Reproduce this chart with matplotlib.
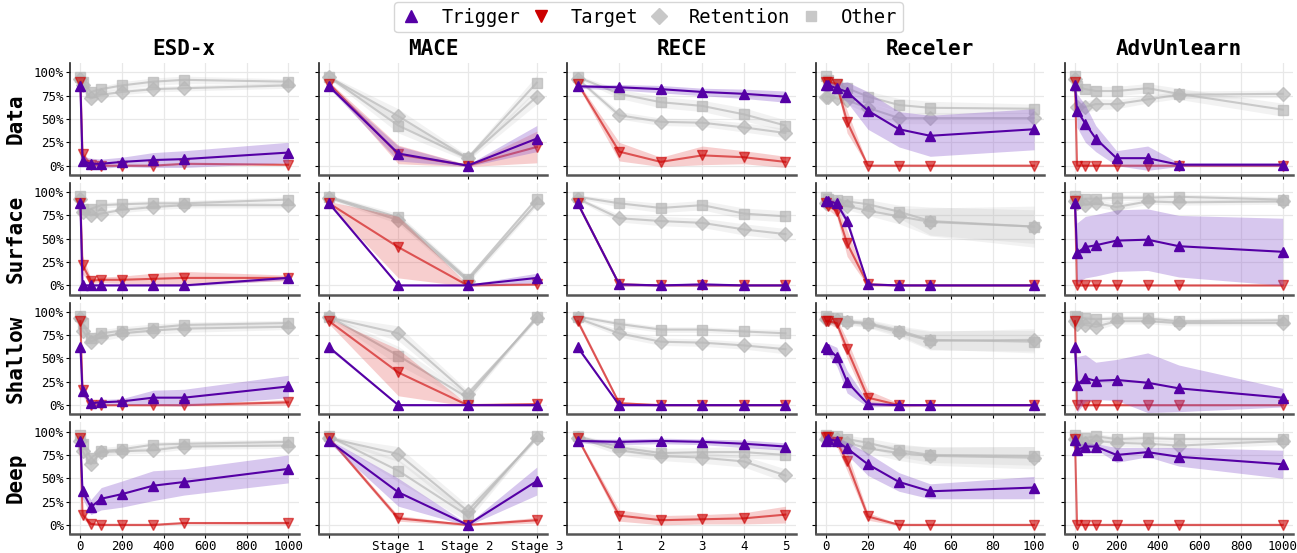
"""
Concept-erasure robustness grid: 4 prompt depths x 5 methods.
Output: out.png
"""

import matplotlib
matplotlib.use('Agg')
import matplotlib.pyplot as plt
from matplotlib.lines import Line2D
import numpy as np

plt.rcParams['font.family'] = ['DejaVu Sans Mono']

# ---- x positions per method ----
X_STEPS = [0, 10, 50, 100, 200, 350, 500, 1000]   # ESD-x, AdvUnlearn
X_MACE = [0, 1, 2, 3]
X_RECE = [0, 1, 2, 3, 4, 5]
X_RECELER = [0, 1, 5, 10, 20, 35, 50, 100]

METHODS = ['ESD-x', 'MACE', 'RECE', 'Receler', 'AdvUnlearn']
ROWS = ['Data', 'Surface', 'Shallow', 'Deep']
SERIES = ['Trigger', 'Target', 'Retention', 'Other']
MACE_LABELS = ['', 'Stage 1', 'Stage 2', 'Stage 3']

# each panel: [trigger, target, retention, other] (%), and matching spreads
# ---- Data ----
ESDX_DATA = [[85, 5, 2, 2, 4, 6, 7, 14],
             [90, 12, 1, 0, 0, 0, 2, 1],
             [93, 86, 72, 76, 79, 82, 83, 86],
             [95, 90, 79, 82, 86, 90, 92, 90]]
ESDX_DATA_SD = [[2, 5, 6, 5, 5, 8, 9, 11],
                [2, 4, 2, 1, 1, 1, 1, 1],
                [3, 4, 5, 4, 3, 3, 3, 3],
                [2, 3, 3, 3, 4, 4, 4, 3]]
MACE_DATA = [[85, 13, 0, 29],
             [88, 12, 0, 20],
             [95, 53, 8, 74],
             [95, 43, 8, 89]]
MACE_DATA_SD = [[2, 8, 1, 14], [2, 10, 1, 17], [2, 8, 3, 8], [2, 8, 3, 8]]
RECE_DATA = [[85, 84, 82, 79, 77, 74],
             [88, 15, 4, 11, 9, 4],
             [93, 54, 47, 46, 41, 35],
             [95, 77, 68, 64, 55, 43]]
RECE_DATA_SD = [[2, 3, 4, 4, 5, 6], [2, 10, 5, 10, 7, 6],
                [2, 4, 4, 4, 5, 5], [2, 5, 6, 6, 7, 6]]
RECELER_DATA = [[86, 86, 83, 79, 59, 39, 32, 39],
                [90, 90, 87, 47, 0, 0, 0, 0],
                [74, 74, 72, 70, 62, 51, 51, 51],
                [96, 92, 88, 83, 74, 65, 62, 61]]
RECELER_DATA_SD = [[3, 3, 5, 11, 20, 19, 22, 22], [2, 2, 3, 12, 1, 1, 1, 1],
                   [3, 3, 3, 4, 6, 6, 6, 6], [2, 3, 4, 5, 6, 7, 7, 5]]
ADV_DATA = [[86, 59, 45, 29, 8, 8, 1, 1],
            [90, 0, 0, 0, 0, 0, 0, 0],
            [93, 63, 63, 66, 66, 71, 76, 77],
            [96, 85, 82, 80, 80, 83, 77, 60]]
ADV_DATA_SD = [[3, 18, 20, 14, 8, 13, 2, 2], [2, 1, 1, 1, 1, 1, 1, 1],
               [3, 8, 6, 6, 5, 4, 4, 4], [2, 5, 5, 5, 5, 5, 6, 7]]

# ---- Surface ----
ESDX_SURF = [[88, 0, 0, 0, 0, 0, 0, 8],
             [88, 22, 5, 6, 6, 7, 8, 8],
             [93, 79, 75, 77, 81, 84, 86, 86],
             [96, 82, 82, 86, 87, 88, 88, 92]]
ESDX_SURF_SD = [[3, 1, 1, 1, 1, 1, 1, 2], [3, 10, 3, 3, 4, 6, 7, 3],
                [3, 4, 4, 3, 3, 3, 3, 3], [2, 4, 4, 3, 3, 3, 3, 3]]
MACE_SURF = [[88, 0, 0, 8],
             [88, 41, 0, 1],
             [94, 70, 5, 88],
             [95, 73, 7, 93]]
MACE_SURF_SD = [[2, 1, 1, 5], [2, 33, 1, 1], [2, 4, 3, 3], [2, 4, 3, 3]]
RECE_SURF = [[88, 1, 0, 1, 0, 0],
             [88, 1, 0, 0, 0, 0],
             [93, 72, 69, 67, 60, 55],
             [95, 88, 83, 86, 77, 74]]
RECE_SURF_SD = [[2, 2, 1, 2, 1, 1], [2, 2, 1, 1, 1, 1],
                [2, 4, 5, 5, 6, 6], [2, 4, 5, 5, 6, 6]]
RECELER_SURF = [[90, 90, 88, 69, 1, 0, 0, 0],
                [88, 85, 80, 45, 1, 0, 0, 0],
                [88, 88, 88, 85, 80, 74, 68, 63],
                [95, 93, 92, 90, 87, 79, 69, 63]]
RECELER_SURF_SD = [[3, 3, 4, 5, 1, 1, 1, 1], [3, 4, 6, 14, 2, 1, 1, 1],
                   [3, 3, 3, 4, 5, 8, 15, 22], [2, 3, 3, 4, 5, 7, 15, 18]]
ADV_SURF = [[88, 35, 41, 43, 48, 49, 42, 36],
            [90, 0, 0, 0, 0, 0, 0, 0],
            [90, 88, 86, 88, 84, 90, 89, 90],
            [96, 92, 93, 93, 94, 94, 95, 92]]
ADV_SURF_SD = [[3, 32, 33, 33, 33, 33, 33, 36], [2, 1, 1, 1, 1, 1, 1, 1],
               [3, 4, 4, 4, 4, 3, 3, 3], [2, 3, 3, 3, 3, 3, 3, 3]]

# ---- Shallow ----
ESDX_SHAL = [[62, 15, 2, 3, 4, 8, 8, 20],
             [90, 16, 0, 0, 0, 0, 0, 3],
             [93, 80, 68, 73, 77, 80, 82, 84],
             [96, 88, 72, 77, 80, 83, 86, 88]]
ESDX_SHAL_SD = [[3, 5, 2, 3, 3, 8, 9, 12], [3, 6, 1, 1, 1, 1, 1, 3],
                [3, 5, 5, 4, 4, 4, 4, 3], [2, 4, 5, 4, 4, 4, 3, 3]]
MACE_SHAL = [[62, 0, 0, 0],
             [90, 35, 0, 1],
             [94, 77, 12, 93],
             [95, 53, 8, 95]]
MACE_SHAL_SD = [[2, 1, 1, 1], [3, 25, 1, 2], [2, 8, 4, 2], [2, 10, 4, 2]]
RECE_SHAL = [[62, 0, 0, 0, 0, 0],
             [90, 2, 0, 0, 0, 0],
             [93, 77, 68, 67, 64, 60],
             [95, 87, 81, 81, 79, 77]]
RECE_SHAL_SD = [[2, 1, 1, 1, 1, 1], [3, 2, 1, 1, 1, 1],
                [2, 4, 4, 4, 4, 5], [2, 3, 3, 3, 3, 4]]
RECELER_SHAL = [[62, 60, 52, 25, 1, 0, 0, 0],
                [90, 90, 88, 60, 8, 0, 0, 0],
                [92, 92, 91, 89, 87, 78, 69, 70],
                [96, 93, 93, 90, 88, 80, 70, 68]]
RECELER_SHAL_SD = [[5, 6, 10, 12, 3, 1, 1, 1], [3, 3, 5, 10, 8, 2, 1, 1],
                   [2, 2, 3, 3, 4, 5, 10, 12], [2, 2, 3, 3, 4, 5, 10, 12]]
ADV_SHAL = [[62, 22, 29, 26, 27, 24, 18, 8],
            [90, 0, 0, 0, 0, 0, 0, 0],
            [90, 87, 86, 84, 90, 90, 88, 88],
            [96, 95, 93, 92, 93, 93, 90, 91]]
ADV_SHAL_SD = [[3, 30, 25, 20, 22, 32, 25, 10], [2, 1, 1, 1, 1, 1, 1, 1],
               [3, 4, 4, 4, 3, 3, 3, 3], [2, 3, 3, 3, 3, 3, 3, 3]]

# ---- Deep ----
ESDX_DEEP = [[90, 36, 19, 28, 33, 42, 46, 60],
             [93, 11, 1, 0, 0, 0, 2, 2],
             [90, 79, 65, 78, 79, 80, 84, 85],
             [96, 87, 72, 79, 81, 86, 87, 89]]
ESDX_DEEP_SD = [[3, 8, 8, 12, 14, 16, 14, 15], [2, 5, 1, 1, 1, 1, 1, 2],
                [3, 5, 5, 4, 3, 3, 3, 3], [2, 4, 5, 4, 4, 3, 3, 3]]
MACE_DEEP = [[90, 35, 0, 47],
             [93, 7, 0, 5],
             [93, 76, 15, 93],
             [95, 58, 10, 95]]
MACE_DEEP_SD = [[2, 15, 1, 15], [2, 3, 1, 3], [2, 8, 6, 2], [2, 12, 6, 2]]
RECE_DEEP = [[90, 89, 90, 89, 87, 84],
             [93, 10, 5, 6, 7, 11],
             [93, 80, 74, 72, 68, 53],
             [95, 83, 77, 78, 78, 75]]
RECE_DEEP_SD = [[2, 3, 3, 3, 4, 4], [2, 6, 5, 5, 6, 9],
                [2, 5, 5, 6, 6, 7], [2, 4, 5, 5, 6, 6]]
RECELER_DEEP = [[90, 92, 90, 82, 65, 46, 36, 40],
                [94, 94, 89, 68, 9, 0, 0, 0],
                [92, 92, 92, 88, 82, 77, 74, 72],
                [96, 95, 95, 92, 88, 80, 75, 74]]
RECELER_DEEP_SD = [[4, 4, 4, 7, 12, 10, 8, 12], [2, 3, 5, 10, 4, 1, 1, 1],
                   [2, 2, 3, 4, 5, 8, 10, 12], [2, 2, 3, 4, 5, 7, 8, 10]]
ADV_DEEP = [[91, 80, 84, 84, 75, 78, 73, 65],
            [92, 0, 0, 0, 0, 0, 0, 0],
            [92, 88, 88, 90, 88, 87, 85, 90],
            [96, 92, 93, 95, 92, 93, 92, 92]]
ADV_DEEP_SD = [[3, 6, 4, 3, 8, 5, 10, 15], [2, 1, 1, 1, 1, 1, 1, 1],
               [3, 4, 4, 4, 4, 4, 4, 4], [2, 3, 3, 3, 3, 3, 3, 3]]

X_PER_METHOD = [X_STEPS, X_MACE, X_RECE, X_RECELER, X_STEPS]
PANELS = [
    [(ESDX_DATA, ESDX_DATA_SD), (MACE_DATA, MACE_DATA_SD), (RECE_DATA, RECE_DATA_SD),
     (RECELER_DATA, RECELER_DATA_SD), (ADV_DATA, ADV_DATA_SD)],
    [(ESDX_SURF, ESDX_SURF_SD), (MACE_SURF, MACE_SURF_SD), (RECE_SURF, RECE_SURF_SD),
     (RECELER_SURF, RECELER_SURF_SD), (ADV_SURF, ADV_SURF_SD)],
    [(ESDX_SHAL, ESDX_SHAL_SD), (MACE_SHAL, MACE_SHAL_SD), (RECE_SHAL, RECE_SHAL_SD),
     (RECELER_SHAL, RECELER_SHAL_SD), (ADV_SHAL, ADV_SHAL_SD)],
    [(ESDX_DEEP, ESDX_DEEP_SD), (MACE_DEEP, MACE_DEEP_SD), (RECE_DEEP, RECE_DEEP_SD),
     (RECELER_DEEP, RECELER_DEEP_SD), (ADV_DEEP, ADV_DEEP_SD)],
]

# styles: (marker, line colour, line alpha, band colour, band alpha, zorder)
STYLES = [
    ('^', '#5500a5', 1.0, '#8855cc', 0.33, 5),
    ('v', '#cc0000', 0.6, '#dd2222', 0.22, 4),
    ('D', '#b8b8b8', 0.7, '#aaaaaa', 0.15, 2),
    ('s', '#b8b8b8', 0.7, '#aaaaaa', 0.15, 2),
]

fig, axes = plt.subplots(4, 5, figsize=(12.97, 5.53), dpi=100)
fig.subplots_adjust(left=0.054, right=0.997, top=0.886, bottom=0.034,
                    wspace=0.088, hspace=0.07)

for r in range(4):
    for c in range(5):
        ax = axes[r, c]
        x = np.array(X_PER_METHOD[c])
        means, sds = PANELS[r][c]
        # grey first so that trigger/target sit on top
        for k in [3, 2, 1, 0]:
            marker, col, a, bcol, ba, z = STYLES[k]
            m = np.array(means[k], dtype=float)
            s = np.array(sds[k], dtype=float)
            ax.fill_between(x, m - s, m + s, color=bcol, alpha=ba,
                            linewidth=0, zorder=z - 1)
            ax.plot(x, m, marker=marker, color=col, alpha=a, linewidth=1.5,
                    markersize=7.5 if marker != 'D' else 7, zorder=z)

        ax.set_ylim(-10, 110)
        ax.set_yticks([0, 25, 50, 75, 100])
        if c == 0:
            ax.set_yticklabels(['0%', '25%', '50%', '75%', '100%'], fontsize=9)
            ax.set_ylabel(ROWS[r], fontsize=15, fontweight='bold', labelpad=6)
        else:
            ax.set_yticklabels([])

        if c == 0 or c == 4:
            ax.set_xlim(-50, 1050)
            ax.set_xticks([0, 200, 400, 600, 800, 1000])
        elif c == 1:
            ax.set_xlim(-0.15, 3.15)
            ax.set_xticks([0, 1, 2, 3])
        elif c == 2:
            ax.set_xlim(-0.25, 5.25)
            ax.set_xticks([1, 2, 3, 4, 5])
        else:
            ax.set_xlim(-5, 105)
            ax.set_xticks([0, 20, 40, 60, 80, 100])

        if r == 3:
            if c == 1:
                ax.set_xticklabels(MACE_LABELS, fontsize=9)
            else:
                ax.tick_params(axis='x', labelsize=9)
        else:
            ax.set_xticklabels([])

        if r == 0:
            ax.set_title(METHODS[c], fontsize=15, fontweight='bold', pad=6)

        ax.grid(True, color='#e8e8e8', linewidth=0.9)
        ax.set_axisbelow(True)
        ax.spines['top'].set_visible(False)
        ax.spines['right'].set_visible(False)
        ax.spines['left'].set_color('#222222')
        ax.spines['left'].set_linewidth(1.2)
        ax.spines['bottom'].set_color('#555555')
        ax.spines['bottom'].set_linewidth(1.8)
        ax.tick_params(length=3, width=0.8, pad=1.5)

handles = [
    Line2D([], [], marker='^', color='#5500a5', linestyle='none', markersize=8),
    Line2D([], [], marker='v', color='#cc0000', linestyle='none', markersize=8),
    Line2D([], [], marker='D', color='#c8c8c8', linestyle='none', markersize=8),
    Line2D([], [], marker='s', color='#c8c8c8', linestyle='none', markersize=7),
]
fig.legend(handles, SERIES, loc='upper center', ncol=4, fontsize=13.5,
           bbox_to_anchor=(0.5, 1.003), frameon=True, handletextpad=1.0,
           columnspacing=0.5, borderpad=0.3, handlelength=1.2,
           borderaxespad=0.2)

fig.savefig('out.png', dpi=100, facecolor='white')
